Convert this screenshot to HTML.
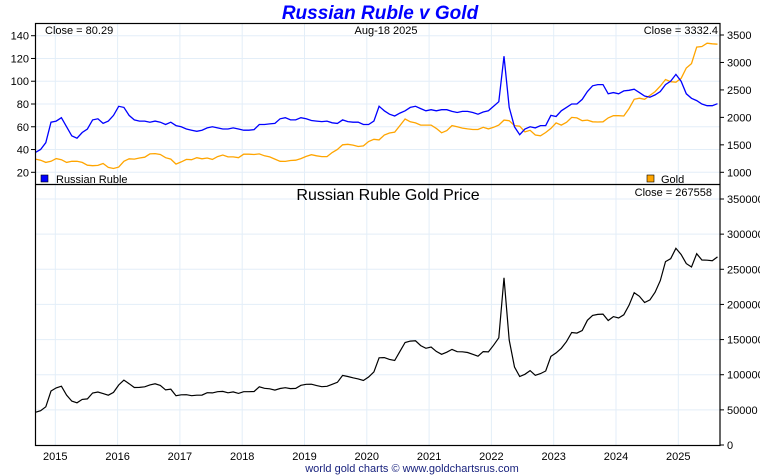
<!DOCTYPE html>
<html><head><meta charset="utf-8">
<style>
body{margin:0;background:#fff;}
svg{display:block;font-family:"Liberation Sans",Arial,sans-serif;}
</style></head>
<body>
<svg id="chart" width="760" height="475" viewBox="0 0 760 475">
  <g id="grid"></g>
  <g id="axes"></g>
  <g id="series"></g>
  <rect x="35.5" y="23.5" width="684.5" height="422" fill="none" stroke="#000" stroke-width="1.2"/>
  <line x1="35.5" y1="184.5" x2="720" y2="184.5" stroke="#000" stroke-width="1.2"/>
  <text x="380" y="19" text-anchor="middle" font-size="19" font-weight="bold" font-style="italic" fill="#0000ff">Russian Ruble v Gold</text>
  <text x="45" y="34" font-size="11">Close = 80.29</text>
  <text x="386" y="34" text-anchor="middle" font-size="11">Aug-18  2025</text>
  <text x="718" y="34" text-anchor="end" font-size="11">Close = 3332.4</text>
  <rect x="41" y="175" width="7" height="7" fill="#0000ff" stroke="#000" stroke-width="0.6"/>
  <text x="56" y="183" font-size="11">Russian Ruble</text>
  <rect x="647" y="175" width="7" height="7" fill="#ffa500" stroke="#000" stroke-width="0.6"/>
  <text x="661" y="183" font-size="11">Gold</text>
  <text x="388" y="200" text-anchor="middle" font-size="16">Russian Ruble Gold Price</text>
  <text x="712" y="196" text-anchor="end" font-size="11">Close = 267558</text>
  <text x="412" y="472" text-anchor="middle" font-size="11" fill="#1a237e">world gold charts © www.goldchartsrus.com</text>
</svg>
<script>
// Monthly data Sep 2014 .. Aug 2025
const ruble = [37.5,40,46,64,
65,68,60,52,50,55,58,66,67,63,65,70,
78,77,70,66,65,65,64,65,64,62,64,61,
60,58,57,56,57,59,60,59,58,58,59,58,
57,57,57.5,62,62,62.5,63,67,68,66,66,68,
67,65.5,65,64.5,65,63.5,63,66,64.5,64,64,62,
62,65,78,74,71,69.5,72,74,77,78,76,74,
75,74,75,75,73.5,72.5,73.5,73.5,72.5,71,73,74,
78,82,122,77,60,53,58,60,59,61,61,70,
69,74,77,80,80,84,91,96,97,97,89,90,
89,91.5,92,93,90,87,86,88,91,97,100,106,
100,89,85,83,80,78.5,78.5,80.29];
const gold = [1240,1220,1180,1200,
1250,1230,1180,1200,1200,1180,1130,1120,1125,1160,1090,1070,
1095,1200,1245,1240,1260,1275,1335,1340,1325,1265,1240,1150,
1190,1235,1230,1265,1245,1260,1235,1285,1315,1280,1280,1265,
1330,1330,1325,1335,1300,1280,1240,1200,1198,1215,1220,1250,
1290,1320,1300,1285,1285,1360,1415,1500,1510,1495,1470,1480,
1560,1600,1590,1680,1715,1730,1850,1970,1920,1900,1860,1860,
1860,1800,1720,1760,1850,1830,1805,1790,1780,1780,1820,1790,
1820,1860,1950,1940,1850,1840,1735,1765,1680,1665,1725,1800,
1900,1860,1910,2000,1990,1940,1950,1920,1915,1920,1990,2030,
2030,2025,2160,2330,2350,2330,2400,2470,2570,2690,2650,2640,
2710,2900,2980,3280,3290,3350,3340,3332.4];
const years = [2015,2016,2017,2018,2019,2020,2021,2022,2023,2024,2025];
const leftTicks = [20,40,60,80,100,120,140];
const rightTicks = [1000,1500,2000,2500,3000,3500];
const lowerTicks = [0,50000,100000,150000,200000,250000,300000,350000];

const NS = "http://www.w3.org/2000/svg";
const tStart = 2014.68, tEnd = 2025.63;
const X = t => 55.3 + (t - 2015) * 62.3;
const tAt = i => tStart + i * (tEnd - tStart) / (ruble.length - 1);
const yL = v => 172.3 - (v - 20) * (136.6 / 120);
const yR = v => 172.3 - (v - 1000) * (137.3 / 2500);
const yB = v => 445 - v * (246 / 350000);

function mk(tag, attrs, parent){
  const e = document.createElementNS(NS, tag);
  for (const k in attrs) e.setAttribute(k, attrs[k]);
  parent.appendChild(e);
  return e;
}
const grid = document.getElementById('grid');
const axes = document.getElementById('axes');
const series = document.getElementById('series');
const gc = "#e3eef8";

years.forEach(y => {
  const x = X(y);
  const l = mk('line', {x1:x, y1:23.5, x2:x, y2:445, stroke:gc, 'stroke-width':1}, grid);
  
  
  const t = mk('text', {x:x, y:460, 'text-anchor':'middle', 'font-size':11}, axes);
  t.textContent = y;
  
  
});
leftTicks.forEach(v => {
  const y = yL(v);
  const l = mk('line', {x1:35.5, y1:y, x2:720, y2:y, stroke:gc, 'stroke-width':1}, grid);
  
  
  mk('line', {x1:31, y1:y, x2:35.5, y2:y, stroke:'#000'}, axes);
  const t = mk('text', {x:29, y:y+4, 'text-anchor':'end', 'font-size':11}, axes);
  t.textContent = v;
  
  
});
rightTicks.forEach(v => {
  const y = yR(v);
  mk('line', {x1:720, y1:y, x2:724, y2:y, stroke:'#000'}, axes);
  const t = mk('text', {x:727, y:y+4, 'font-size':11}, axes);
  t.textContent = v;
  
  
});
lowerTicks.forEach(v => {
  const y = yB(v);
  if (v > 0) {
    const l = mk('line', {x1:35.5, y1:y, x2:720, y2:y, stroke:gc, 'stroke-width':1}, grid);
    
    
  }
  mk('line', {x1:720, y1:y, x2:724, y2:y, stroke:'#000'}, axes);
  const t = mk('text', {x:727, y:y+4, 'font-size':11}, axes);
  t.textContent = v;
  
  
});

function path(vals, yf){
  return vals.map((v,i) => (i ? 'L' : 'M') + X(tAt(i)).toFixed(1) + ',' + yf(v).toFixed(1)).join('');
}
const pg = mk('path', {d:path(gold, yR), fill:'none', stroke:'#ffa500', 'stroke-width':1.3}, series);


const pr = mk('path', {d:path(ruble, yL), fill:'none', stroke:'#0000ff', 'stroke-width':1.3}, series);


const product = ruble.map((r,i) => r * gold[i]);
const pp = mk('path', {d:path(product, yB), fill:'none', stroke:'#000', 'stroke-width':1.2}, series);


</script>
</body></html>
